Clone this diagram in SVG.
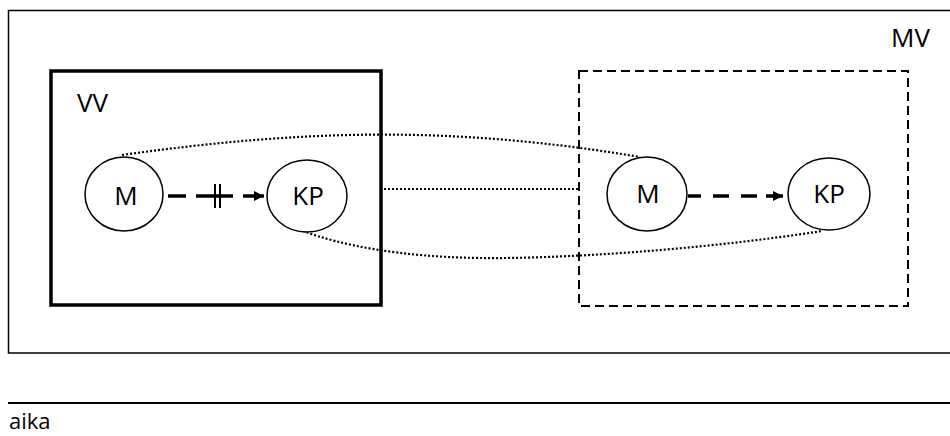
<svg xmlns="http://www.w3.org/2000/svg" width="950" height="436" viewBox="0 0 950 436">
  <defs>
    <marker id="ah" viewBox="0 0 10 10" refX="10" refY="5" markerWidth="10" markerHeight="10" markerUnits="userSpaceOnUse" orient="auto">
      <path d="M0,0 L10,5 L0,10 Z" fill="#000"/>
    </marker>
  </defs>
  <style>
    .lbl { font-family: "Open Sans", "Liberation Sans", sans-serif; font-size: 26px; fill: #000; }
    .node { fill: #fff; stroke: #000; stroke-width: 1.5; }
    .dot { fill: none; stroke: #000; stroke-width: 2.2; stroke-dasharray: 2 2; }
    .dash { fill: none; stroke: #000; stroke-width: 3.5; }
  </style>
  <rect width="950" height="436" fill="#fff"/>
  <g id="frame">
    <path d="M960,10.5 H8.5 V353 H960" fill="none" stroke="#000" stroke-width="1.5"/>
    <text class="lbl" x="891" y="47">MV</text>
  </g>
  <g id="vv">
    <rect x="51" y="71" width="330" height="234" fill="none" stroke="#000" stroke-width="3.5"/>
    <text class="lbl" x="77" y="112">VV</text>
  </g>
  <g id="mv">
    <rect x="579" y="71" width="329" height="235" fill="none" stroke="#000" stroke-width="2" stroke-dasharray="9 5"/>
  </g>
  <g id="connectors">
    <path class="dot" d="M122,155 C300,130 450,125 640,157"/>
    <path class="dot" d="M384,189 H578"/>
    <path class="dot" d="M303,231 C340,245 400,257 480,258 S700,250 822,231"/>
    <g id="arrow-left">
      <line class="dash" x1="168" y1="196" x2="186" y2="196"/>
      <line class="dash" x1="196" y1="196" x2="233" y2="196"/>
      <line x1="215" y1="184" x2="215" y2="208" stroke="#000" stroke-width="2"/>
      <line x1="220" y1="184" x2="220" y2="208" stroke="#000" stroke-width="2"/>
      <line class="dash" x1="243" y1="196" x2="264" y2="196" marker-end="url(#ah)"/>
    </g>
    <g id="arrow-right">
      <line class="dash" x1="688" y1="196" x2="701" y2="196"/>
      <line class="dash" x1="713" y1="196" x2="729" y2="196"/>
      <line class="dash" x1="741" y1="196" x2="757" y2="196"/>
      <line class="dash" x1="766" y1="196" x2="783" y2="196" marker-end="url(#ah)"/>
    </g>
  </g>
  <g id="m-left">
    <ellipse class="node" cx="124" cy="194" rx="39" ry="37"/>
    <text class="lbl" x="126" y="205" text-anchor="middle">M</text>
  </g>
  <g id="kp-left">
    <ellipse class="node" cx="307" cy="196" rx="40" ry="36"/>
    <text class="lbl" x="308" y="205" text-anchor="middle">KP</text>
  </g>
  <g id="m-right">
    <ellipse class="node" cx="647" cy="194" rx="40" ry="37"/>
    <text class="lbl" x="648" y="203" text-anchor="middle">M</text>
  </g>
  <g id="kp-right">
    <ellipse class="node" cx="829" cy="194" rx="41" ry="36"/>
    <text class="lbl" x="829" y="203" text-anchor="middle">KP</text>
  </g>
  <g id="timeline">
    <line x1="8" y1="403" x2="950" y2="403" stroke="#000" stroke-width="2"/>
    <text class="lbl" x="9" y="429" style="font-size:22px">aika</text>
  </g>
</svg>
